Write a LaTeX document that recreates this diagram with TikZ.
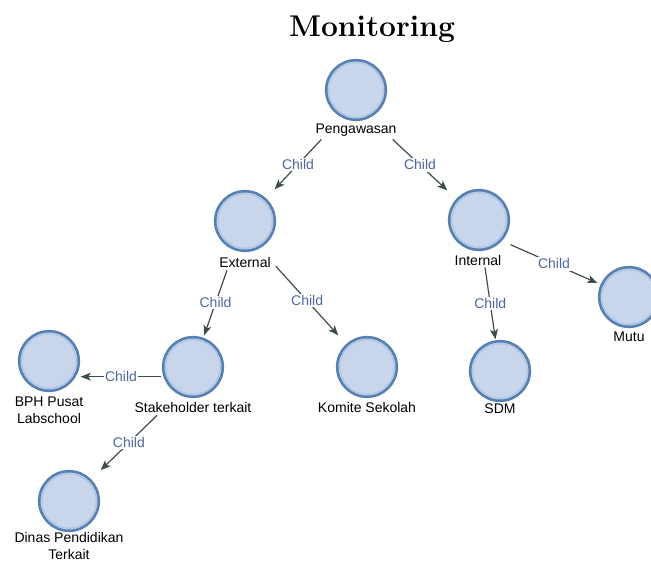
\documentclass[tikz,border=0pt]{standalone}
\usepackage{fontspec}
\setsansfont{Liberation Sans}
\usetikzlibrary{arrows.meta}

\definecolor{ballfill}{HTML}{C7D6EA}
\definecolor{ballrim}{HTML}{5680B2}
\definecolor{ballglow}{HTML}{A8C3E3}
\definecolor{edgecol}{HTML}{3E4C4C}
\definecolor{relcol}{HTML}{4F65A7}

\begin{document}
\begin{tikzpicture}[x=1pt,y=-1pt,
  % square hit box with a round ball drawn inside it
  ball/.style={rectangle, minimum size=63pt, inner sep=0pt,
    path picture={
      \fill[ballfill] (path picture bounding box.center) circle[radius=29.5pt];
      \draw[ballglow, line width=1pt] (path picture bounding box.center) circle[radius=27.3pt];
      \draw[ballrim, line width=2.6pt] (path picture bounding box.center) circle[radius=29.8pt];}},
  lbl/.style={font=\sffamily\fontsize{14}{17}\selectfont, text=black, inner sep=1pt, align=center},
  edge/.style={draw=edgecol, line width=1.2pt,
    -{Stealth[length=10pt,width=8pt,inset=2.5pt]}},
  rel/.style={font=\sffamily\fontsize{14}{17}\selectfont, text=relcol, fill=white, inner sep=1.5pt},
  heading/.style={font=\bfseries\fontsize{30}{30}\selectfont, anchor=base}]

\useasboundingbox (0,0) rectangle (651,561);

\node[heading] (title) at (372,37) {Monitoring};

% entities
\node[ball] (peng)   at (356,90)  {};
\node[lbl]  (pengL)  at (356,130) {Pengawasan};
\node[ball] (ext)    at (245,221) {};
\node[lbl]  (extL)   at (245,262) {External};
\node[ball] (int)    at (479,220) {};
\node[lbl]  (intL)   at (478,260) {Internal};
\node[ball] (mutu)   at (629,297) {};
\node[lbl]  (mutuL)  at (629,337) {Mutu};
\node[ball] (sdm)    at (500,371) {};
\node[lbl]  (sdmL)   at (500,409) {SDM};
\node[ball] (stake)  at (193,367) {};
\node[lbl]  (stakeL) at (193,407) {Stakeholder terkait};
\node[ball] (komite) at (367,367) {};
\node[lbl]  (komiteL) at (367,407) {Komite Sekolah};
\node[ball] (bph)    at (49,361)  {};
\node[lbl]  (bphL)   at (49,410)  {BPH Pusat\\Labschool};
\node[ball] (dinas)  at (69,501)  {};
\node[lbl]  (dinasL) at (69,546)  {Dinas Pendidikan\\Terkait};

% relations
\draw[edge] ([xshift=7pt,yshift=-2pt]pengL.south west) -- node[rel] {Child} (ext);
\draw[edge] ([xshift=-5pt,yshift=-2pt]pengL.south east) -- node[rel] {Child} (int);
\draw[edge] ([xshift=-18pt,yshift=-2pt]extL.south) -- node[rel] {Child} (stake);
\draw[edge] ([xshift=4pt,yshift=2pt]extL.south east) -- node[rel] {Child} (komite);
\draw[edge] ([xshift=7pt,yshift=-1pt]intL.south) -- node[rel] {Child} (sdm);
\draw[edge] (int.-38) -- node[rel] {Child} (mutu);
\draw[edge] (stake.197) -- node[rel] {Child} (stake.197 -| bph.east);
\draw[edge] ([xshift=-36pt,yshift=-2pt]stakeL.south) -- node[rel] {Child} (dinas);

\end{tikzpicture}
\end{document}
